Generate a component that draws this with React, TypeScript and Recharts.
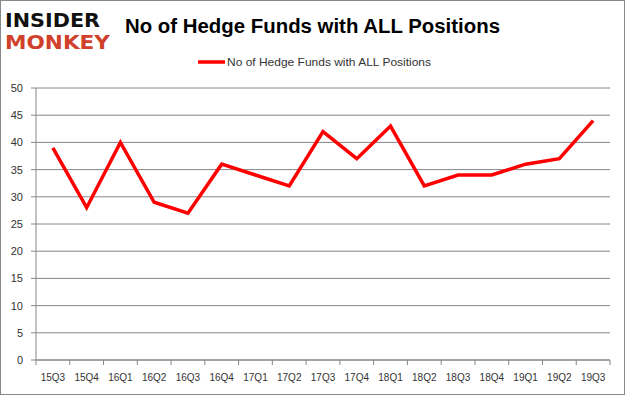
import { LineChart, Line, XAxis, YAxis, CartesianGrid } from 'recharts';

const quarters = [
  '15Q3', '15Q4', '16Q1', '16Q2', '16Q3', '16Q4', '17Q1', '17Q2', '17Q3',
  '17Q4', '18Q1', '18Q2', '18Q3', '18Q4', '19Q1', '19Q2', '19Q3',
];
const hedgeFunds = [39, 28, 40, 29, 27, 36, 34, 32, 42, 37, 43, 32, 34, 34, 36, 37, 44];
const yTicks = [0, 5, 10, 15, 20, 25, 30, 35, 40, 45, 50];

const seriesName = 'No of Hedge Funds with ALL Positions';

const chartData = quarters.map((q, i) => ({ q, val: hedgeFunds[i] }));

const W = 625;
const H = 395;
const PLOT_LEFT = 36;
const PLOT_RIGHT = 610;
const band = (PLOT_RIGHT - PLOT_LEFT) / quarters.length;
const FONT = "'Liberation Sans', Arial, sans-serif";

// Excel-style category ticks: marks sit on the boundaries between categories
function QuarterTick(props: any) {
  const { x, y, payload, index } = props;
  const isLast = index === quarters.length - 1;
  return (
    <g>
      <line x1={x - band / 2} y1={y - 8} x2={x - band / 2} y2={y - 3} stroke="#868686" />
      {isLast && <line x1={x + band / 2} y1={y - 8} x2={x + band / 2} y2={y - 3} stroke="#868686" />}
      <text x={x} y={y + 13} textAnchor="middle" fontSize={10} fill="#333" fontFamily={FONT}>
        {payload.value}
      </text>
    </g>
  );
}

export default function App() {
  return (
    <div style={{ position: 'relative', width: W, height: H, background: '#fff' }}>
      <style>{'body { margin: 0; }'}</style>
      <svg width={W} height={H} style={{ position: 'absolute', left: 0, top: 0 }}>
        <rect x={0.5} y={0.5} width={W - 1} height={H - 1} fill="#fff" stroke="#888" />
        <text x={5} y={27} fontSize={19} fontWeight="bold" fill="#111" fontFamily="'DejaVu Sans', sans-serif" textLength={95} lengthAdjust="spacingAndGlyphs">
          INSIDER
        </text>
        <text x={5} y={49} fontSize={19} fontWeight="bold" fill="#d0402b" fontFamily="'DejaVu Sans', sans-serif" textLength={105} lengthAdjust="spacingAndGlyphs">
          MONKEY
        </text>
        <text x={125} y={33} fontSize={20} fontWeight="bold" fill="#000" fontFamily={FONT} textLength={375} lengthAdjust="spacingAndGlyphs">
          {seriesName}
        </text>
        {/* legend */}
        <line x1={198} y1={62} x2={225} y2={62} stroke="#ff0000" strokeWidth={3.5} />
        <text x={227} y={66} fontSize={11} fill="#333" fontFamily={FONT} textLength={204} lengthAdjust="spacingAndGlyphs">
          {seriesName}
        </text>
      </svg>
      <div style={{ position: 'absolute', left: 0, top: 0 }}>
        <LineChart width={W} height={H} data={chartData} margin={{ top: 88, right: W - PLOT_RIGHT, bottom: 0, left: 0 }}>
          <CartesianGrid vertical={false} stroke="#868686" />
          <XAxis
            dataKey="q"
            stroke="#868686"
            tickLine={false}
            tick={<QuarterTick />}
            interval={0}
            height={35}
            padding={{ left: band / 2, right: band / 2 }}
          />
          <YAxis
            width={PLOT_LEFT}
            domain={[0, 50]}
            ticks={yTicks}
            stroke="#868686"
            tickSize={5}
            tickMargin={8}
            tick={{ fontSize: 11, fill: '#333', fontFamily: FONT }}
            interval={0}
          />
          <Line
            name={seriesName}
            dataKey="val"
            stroke="#ff0000"
            strokeWidth={3.5}
            dot={false}
            isAnimationActive={false}
          />
        </LineChart>
      </div>
    </div>
  );
}
